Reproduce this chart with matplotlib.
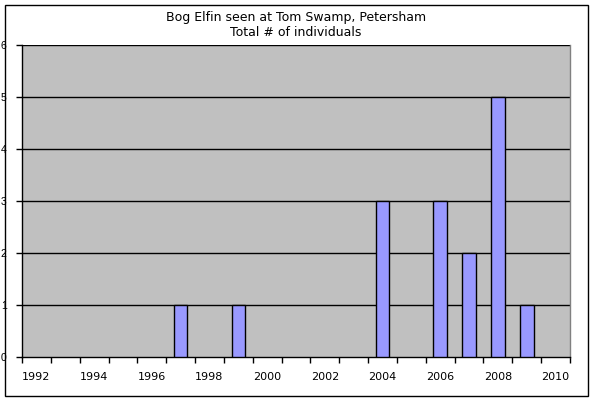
import matplotlib
matplotlib.use("Agg")
import matplotlib.pyplot as plt
from matplotlib.patches import Rectangle
import numpy as np

years = list(range(1992, 2011))
counts = [0, 0, 0, 0, 0, 1, 0, 1, 0, 0, 0, 0, 3, 0, 3, 2, 5, 1, 0]
label_years = [str(y) if (y - 1992) % 2 == 0 else "" for y in years]

plt.rcParams['font.family'] = ['DejaVu Sans']

fig = plt.figure(figsize=(5.94, 4.01), dpi=100)
fig.patches.append(Rectangle((5/594, 5/401), 583/594, 391/401, transform=fig.transFigure,
                             fill=False, edgecolor='black', linewidth=1))
W, H = 594, 401
ax = fig.add_axes([22/W, (H-357)/H, (570-22)/W, (357-45)/H])
ax.set_facecolor('#C0C0C0')

x = np.arange(len(years))
c = np.array(counts)
nz = c > 0
ax.bar(x[nz], c[nz], width=0.47, color='#9999FF', edgecolor='black', linewidth=1, zorder=3)

ax.set_ylim(0, 6)
ax.set_yticks(range(0, 7))
ax.set_yticklabels([str(v) for v in range(0, 7)], fontsize=7.5, family='Liberation Sans')
for lbl in ax.get_yticklabels():
    lbl.set_y(lbl.get_position()[1])
for v in range(1, 7):
    ax.axhline(v, color='black', linewidth=1, zorder=2)

ax.set_xlim(-0.5, len(years) - 0.5)
ax.set_xticks(x)
ax.set_xticklabels(label_years, fontsize=8)
ax.tick_params(axis='x', which='major', length=0, pad=11)
ax.set_xticks(np.arange(-0.5, len(years)), minor=True)
ax.tick_params(axis='x', which='minor', length=4, direction='out', width=1)
ax.tick_params(axis='y', length=4, direction='out', width=1, pad=7)

for s in ['left', 'bottom']:
    ax.spines[s].set_color('black')
    ax.spines[s].set_linewidth(1)
ax.spines['top'].set_visible(False)
ax.spines['right'].set_color('#808080')
ax.spines['right'].set_linewidth(1)

fig.text(296/W, 1 - 17/H, "Bog Elfin seen at Tom Swamp, Petersham", ha='center', va='center', fontsize=9)
fig.text(296/W, 1 - 32/H, "Total # of individuals", ha='center', va='center', fontsize=9)

fig.savefig("out.png", dpi=100)
